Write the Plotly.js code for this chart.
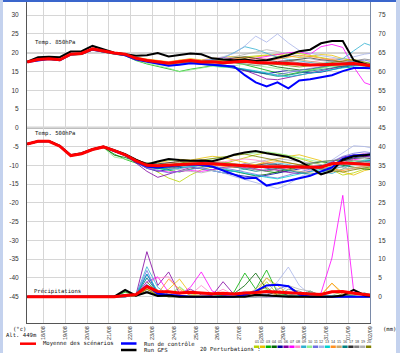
<!DOCTYPE html>
<html><head><meta charset="utf-8">
<script src="https://cdn.plot.ly/plotly-3.0.1.min.js"></script>
<style>
html,body{margin:0;padding:0;background:#fff;}
#wrap{position:relative;width:400px;height:353px;overflow:hidden;}
#chart{position:absolute;left:0;top:0;width:400px;height:353px;}
.strip{position:absolute;pointer-events:none;}
</style></head><body>
<div id="wrap"><div id="chart"></div>
<div class="strip" style="left:0;top:0;width:400px;height:2px;background:#3a66cc"></div>
<div class="strip" style="left:0;top:0;width:3px;height:353px;background:#c4d2ee"></div>
<div class="strip" style="right:0;top:0;width:4px;height:353px;background:#c4d2ee"></div>
</div>
<script>
// lead times (hours) of the run started 17/08 06Z
const leadHours = [0,12,24,36,48,60,72,84,96,108,120,132,144,156,168,180,192,204,216,228,240,252,264,276,288,300,312,324,336,348,360,372,384];
const runStartUTC = Date.UTC(2019,7,17,6);
const dayLabels = ['18/08','19/08','20/08','21/08','22/08','23/08','24/08','25/08','26/08','27/08','28/08','29/08','30/08','31/08','01/09','02/09'];
const pertNames = ['01','02','03','04','05','06','07','08','09','10','11','12','13','14','15','16','17','18','19','20'];
const pertColors = ['#b8d400','#e8c000','#00b000','#006400','#0000a0','#8000a0','#ff00ff','#ff88cc','#30b0d0','#90f090','#7070e0','#a8b4e8','#00d0d0','#ff9020','#c8a870','#008080','#303030','#808080','#b0b0b0','#808000'];

// Temp 850 hPa (°C)
const mean850 = [17.5,18.2,18.4,18.1,19.6,19.8,21.0,20.4,19.9,19.6,18.5,17.9,17.6,17.2,17.6,17.9,17.5,17.6,17.3,17.5,17.7,17.4,17.3,17.3,17.1,16.9,16.7,16.8,16.8,17.0,17.1,16.8,16.4];
const gfs850 = [17.6,18.8,18.9,18.8,20.3,20.4,21.8,20.8,20.0,19.6,19.2,19.3,19.9,19.0,19.3,19.8,19.6,18.5,18.2,18.0,18.2,17.8,18.0,18.6,19.3,20.4,20.8,22.5,23.1,23.1,18.0,17.0,15.8];
const ctrl850 = [17.5,18.0,18.3,18.0,19.5,19.7,20.8,20.3,19.8,19.3,18.2,17.6,17.0,16.5,16.8,17.2,17.0,16.8,16.5,16.3,14.0,12.1,11.0,12.1,10.5,12.6,12.9,13.4,14.0,15.1,15.9,15.9,15.8];
const pert850 = [
 [17.4,18.0,18.3,18.0,19.5,19.6,20.8,20.3,19.8,19.3,18.2,17.5,17.0,16.8,17.0,17.6,17.2,17.8,18.0,18.6,18.9,19.2,19.4,19.0,19.6,19.8,19.2,18.6,18.2,18.5,17.8,17.0,16.6],
 [17.6,18.3,18.5,18.2,19.7,19.9,21.1,20.5,20.0,19.7,18.8,18.3,18.0,17.6,18.0,18.4,18.1,18.5,18.8,19.0,18.6,18.9,19.3,19.6,19.1,18.7,19.0,19.5,19.3,18.4,17.9,17.2,16.9],
 [17.5,18.1,18.2,17.9,19.4,19.5,20.7,20.1,19.6,19.2,17.9,17.0,16.4,15.8,15.0,15.6,16.0,16.6,16.9,17.4,16.8,16.1,15.4,14.6,14.2,14.8,15.2,15.9,16.5,16.3,15.8,16.0,15.7],
 [17.5,18.2,18.4,18.1,19.6,19.7,20.9,20.3,19.8,19.5,18.3,17.6,17.3,16.9,17.3,17.7,17.6,17.9,17.5,17.9,18.4,17.6,16.8,16.2,15.8,15.4,15.6,16.2,16.9,17.3,17.5,16.9,16.2],
 [17.5,18.1,18.4,18.2,19.6,19.8,21.0,20.4,19.8,19.5,18.6,18.0,17.4,16.9,17.2,17.4,17.0,16.6,16.2,15.9,15.2,14.7,14.4,14.9,15.3,15.0,14.6,14.8,15.5,16.1,16.6,17.0,16.8],
 [17.6,18.2,18.3,18.0,19.5,19.8,21.0,20.5,20.0,19.7,18.5,17.8,17.4,17.0,17.3,17.5,17.1,17.0,16.6,16.0,15.3,14.2,13.0,12.8,13.4,14.0,14.7,15.3,15.8,16.4,16.9,17.2,17.0],
 [17.4,18.1,18.4,18.1,19.6,19.9,21.1,20.4,19.9,19.6,18.4,17.9,17.8,17.5,17.9,18.2,17.9,18.4,18.7,18.3,18.0,18.5,19.0,19.6,20.0,20.2,19.6,21.6,22.2,21.4,16.2,12.0,11.0],
 [17.5,18.2,18.5,18.2,19.7,19.8,21.0,20.4,19.9,19.6,18.7,18.1,17.8,17.4,17.8,18.1,17.6,17.4,17.0,17.3,17.8,18.2,18.5,18.0,17.6,17.2,17.5,18.0,18.4,18.0,17.4,16.8,16.3],
 [17.5,18.2,18.4,18.1,19.6,19.8,21.0,20.4,19.9,19.6,18.6,18.0,17.5,17.1,17.5,18.0,17.8,18.2,18.6,20.0,21.6,20.9,19.8,18.8,18.2,17.9,17.4,17.0,17.6,18.4,20.5,22.5,21.5],
 [17.4,18.0,18.2,17.9,19.4,19.6,20.8,20.2,19.7,19.3,18.0,17.2,16.6,15.9,14.9,15.3,15.9,16.4,16.0,16.5,17.0,16.6,16.2,15.9,15.3,14.9,15.4,16.0,16.4,16.9,17.3,17.5,17.1],
 [17.6,18.3,18.5,18.2,19.7,19.9,21.1,20.5,20.0,19.7,18.7,18.0,17.6,17.2,17.6,17.9,17.4,17.0,16.4,16.0,15.6,15.0,14.5,14.1,14.7,15.3,15.8,16.2,16.6,17.2,17.8,18.0,17.4],
 [17.5,18.2,18.4,18.1,19.6,19.8,21.0,20.4,19.9,19.6,18.6,18.0,17.6,17.2,17.7,18.1,17.8,18.4,18.9,19.8,21.8,24.4,22.8,25.0,22.6,20.6,19.8,19.2,18.8,18.3,18.9,19.6,20.0],
 [17.5,18.2,18.3,18.0,19.5,19.7,20.9,20.3,19.8,19.4,18.3,17.6,17.2,16.8,17.0,17.3,16.9,16.5,16.3,16.0,15.7,15.2,14.6,13.9,13.6,14.1,14.5,15.0,15.6,16.0,16.4,16.6,16.4],
 [17.5,18.2,18.5,18.2,19.6,19.9,21.1,20.5,20.0,19.7,18.7,18.2,17.9,17.5,18.0,18.3,17.9,17.7,17.9,18.3,18.7,18.4,18.1,18.3,18.8,19.3,19.0,18.5,18.0,17.6,17.2,16.9,16.5],
 [17.5,18.1,18.3,18.0,19.5,19.7,20.9,20.3,19.8,19.5,18.4,17.7,17.3,16.9,17.2,17.5,17.1,17.2,17.6,17.9,17.4,17.0,16.9,17.3,17.7,18.1,17.7,17.3,16.9,16.6,16.8,17.2,16.9],
 [17.5,18.2,18.4,18.1,19.6,19.8,21.0,20.4,19.9,19.6,18.5,17.9,17.5,17.1,17.4,17.6,17.2,16.8,16.4,16.1,15.4,14.8,14.2,13.7,14.0,14.6,15.1,15.5,16.0,16.4,16.8,16.4,16.0],
 [17.5,18.2,18.4,18.1,19.6,19.8,21.0,20.4,19.9,19.6,18.5,18.0,17.6,17.3,17.7,18.0,17.7,17.9,18.2,18.6,18.9,18.5,18.0,17.6,17.9,18.3,18.6,18.1,17.7,17.5,17.2,16.6,16.0],
 [17.6,18.3,18.5,18.2,19.7,19.9,21.1,20.5,20.0,19.6,18.6,18.0,17.7,17.3,17.6,17.9,17.6,17.3,17.1,17.4,17.0,16.6,16.9,17.4,17.8,17.3,16.8,16.5,16.9,17.4,17.9,18.3,17.9],
 [17.4,18.1,18.3,18.0,19.5,19.7,20.9,20.3,19.8,19.5,18.4,17.8,17.4,17.0,17.4,17.8,17.5,17.9,18.3,18.9,19.5,20.2,20.8,20.3,19.6,19.0,18.4,17.9,17.5,17.3,17.0,16.7,16.4],
 [17.5,18.2,18.4,18.1,19.6,19.8,21.0,20.4,19.9,19.6,18.5,17.9,17.5,17.1,17.5,17.8,17.4,17.6,17.2,17.6,17.9,17.5,17.2,16.8,16.5,16.2,16.5,17.0,17.4,17.8,18.2,17.6,16.8]
];

// Temp 500 hPa (°C)
const mean500 = [-4.3,-3.6,-3.6,-4.9,-7.4,-6.9,-5.8,-5.1,-6.1,-7.2,-8.8,-10.0,-10.1,-9.9,-9.7,-9.6,-9.5,-9.6,-9.7,-10.0,-10.1,-10.3,-10.3,-10.3,-10.4,-10.5,-10.5,-10.5,-9.6,-9.4,-9.5,-9.7,-9.9];
const gfs500 = [-4.3,-3.6,-3.5,-4.8,-7.3,-6.8,-5.7,-5.0,-6.0,-7.0,-8.5,-9.8,-9.0,-8.3,-8.6,-8.8,-8.7,-8.9,-8.2,-7.2,-6.6,-6.2,-6.8,-7.4,-7.8,-8.9,-10.5,-12.4,-11.5,-8.5,-7.6,-7.3,-7.0];
const ctrl500 = [-4.3,-3.6,-3.6,-4.9,-7.4,-6.9,-5.8,-5.1,-6.2,-7.3,-9.0,-10.3,-10.6,-10.2,-10.0,-9.8,-9.9,-10.3,-11.4,-12.6,-13.5,-13.3,-15.4,-14.8,-14.1,-13.3,-12.8,-11.6,-10.6,-8.2,-7.4,-7.2,-7.0];
const pert500 = [
 [-4.3,-3.5,-3.5,-4.8,-7.3,-6.8,-5.7,-5.0,-6.0,-7.0,-8.6,-10.2,-11.8,-13.4,-14.4,-12.6,-11.2,-10.4,-9.6,-8.8,-7.9,-7.2,-6.6,-6.9,-7.4,-8.2,-9.0,-9.8,-11.2,-12.6,-12.0,-11.0,-10.6],
 [-4.2,-3.6,-3.5,-4.9,-7.4,-6.9,-5.8,-5.2,-6.2,-7.2,-8.4,-9.6,-9.3,-8.8,-8.4,-8.6,-8.0,-7.6,-7.9,-8.6,-9.4,-9.9,-9.0,-8.2,-7.6,-7.2,-7.9,-8.8,-10.6,-11.8,-12.6,-11.4,-10.8],
 [-4.3,-3.6,-3.7,-5.0,-7.5,-7.0,-5.9,-5.3,-7.0,-8.4,-9.4,-10.4,-10.8,-11.4,-11.8,-11.0,-10.4,-9.8,-9.2,-9.6,-10.2,-11.0,-11.6,-12.0,-11.2,-10.4,-9.6,-9.0,-8.8,-8.6,-9.2,-9.8,-9.6],
 [-4.3,-3.6,-3.6,-4.9,-7.4,-6.9,-5.8,-5.1,-7.3,-7.9,-9.0,-9.8,-10.6,-10.9,-10.2,-9.6,-9.9,-10.6,-11.2,-11.6,-12.2,-12.8,-12.4,-11.8,-11.0,-10.2,-9.5,-9.1,-9.4,-10.0,-10.5,-11.0,-11.2],
 [-4.4,-3.7,-3.7,-5.0,-7.5,-7.0,-5.9,-5.2,-6.3,-7.4,-9.2,-10.8,-11.6,-11.1,-10.6,-10.4,-10.8,-11.4,-12.0,-12.5,-12.9,-13.2,-12.6,-12.0,-11.4,-10.8,-10.4,-10.1,-9.6,-8.8,-8.0,-7.6,-7.4],
 [-4.3,-3.6,-3.6,-4.9,-7.4,-6.9,-5.8,-5.1,-6.2,-7.3,-9.4,-11.6,-13.2,-12.4,-11.4,-10.6,-10.8,-11.2,-10.6,-10.0,-9.6,-10.2,-10.8,-11.4,-11.9,-12.2,-11.6,-10.6,-9.2,-7.8,-7.2,-7.6,-8.0],
 [-4.2,-3.5,-3.5,-4.8,-7.3,-6.8,-5.7,-5.1,-6.1,-7.2,-9.0,-10.6,-11.4,-11.8,-11.6,-11.4,-11.6,-11.2,-10.8,-10.4,-10.6,-11.0,-11.4,-11.0,-10.6,-10.2,-10.4,-10.8,-11.2,-9.4,-8.4,-8.8,-9.2],
 [-4.3,-3.6,-3.6,-4.9,-7.4,-6.9,-5.8,-5.1,-6.1,-7.1,-8.6,-9.6,-10.2,-10.6,-10.9,-10.5,-10.1,-9.6,-9.1,-8.6,-8.3,-8.6,-9.2,-9.8,-10.4,-10.9,-11.4,-11.8,-10.4,-8.6,-7.4,-6.8,-7.2],
 [-4.3,-3.6,-3.6,-4.9,-7.4,-6.9,-5.8,-5.1,-6.0,-7.0,-8.8,-10.4,-11.0,-10.4,-9.8,-10.2,-10.8,-11.4,-12.0,-11.6,-11.0,-10.6,-10.0,-9.4,-9.8,-10.4,-11.0,-11.6,-12.2,-11.0,-9.4,-8.6,-8.4],
 [-4.4,-3.7,-3.8,-5.1,-7.6,-7.1,-6.0,-5.3,-7.8,-8.4,-9.0,-9.4,-9.0,-8.6,-8.9,-9.3,-8.8,-8.2,-7.8,-7.3,-7.0,-6.6,-6.4,-6.8,-7.4,-8.0,-8.8,-9.4,-9.8,-9.4,-8.8,-8.6,-9.0],
 [-4.3,-3.6,-3.6,-4.9,-7.4,-6.9,-5.8,-5.1,-6.2,-7.4,-9.2,-10.8,-11.4,-12.0,-11.6,-11.0,-10.6,-10.2,-10.6,-11.2,-11.8,-12.4,-13.0,-13.4,-12.6,-11.8,-11.0,-10.2,-9.0,-7.6,-6.8,-6.4,-6.8],
 [-4.2,-3.5,-3.5,-4.8,-7.3,-6.8,-5.7,-5.0,-6.0,-7.1,-8.8,-10.2,-10.6,-10.2,-9.8,-10.2,-10.8,-11.4,-12.0,-13.0,-13.8,-14.6,-15.4,-16.2,-15.0,-13.2,-11.8,-10.4,-8.6,-6.6,-4.8,-5.0,-5.6],
 [-4.3,-3.6,-3.6,-4.9,-7.4,-6.9,-5.8,-5.1,-6.1,-7.2,-8.9,-10.2,-10.8,-11.2,-10.8,-10.4,-10.0,-10.4,-11.0,-11.6,-12.0,-12.6,-13.2,-13.6,-13.0,-12.4,-11.6,-11.0,-10.4,-9.8,-9.2,-8.8,-8.6],
 [-4.2,-3.5,-3.5,-4.8,-7.3,-6.8,-5.7,-5.0,-6.0,-7.0,-8.5,-9.5,-9.8,-9.4,-9.0,-9.2,-9.6,-9.9,-10.2,-10.6,-10.2,-9.8,-9.4,-9.0,-9.4,-9.8,-10.2,-10.6,-11.0,-11.4,-10.8,-10.2,-9.8],
 [-4.3,-3.6,-3.6,-4.9,-7.4,-6.9,-5.8,-5.1,-6.1,-7.1,-8.7,-9.8,-10.2,-10.0,-9.6,-9.3,-9.0,-8.8,-9.2,-9.6,-9.9,-10.2,-10.4,-10.8,-11.2,-11.6,-12.0,-12.4,-11.8,-11.0,-10.6,-10.2,-10.4],
 [-4.3,-3.6,-3.6,-4.9,-7.4,-6.9,-5.8,-5.1,-6.2,-7.2,-9.0,-10.4,-10.9,-10.6,-10.3,-10.0,-9.6,-9.4,-9.8,-10.4,-11.0,-11.6,-11.2,-10.8,-11.4,-12.0,-12.4,-11.8,-11.0,-10.2,-9.6,-9.0,-8.6],
 [-4.3,-3.6,-3.6,-4.9,-7.4,-6.9,-5.8,-5.1,-6.1,-7.1,-8.6,-9.4,-9.6,-9.2,-9.0,-8.8,-8.9,-9.2,-9.6,-10.0,-10.4,-10.0,-9.6,-9.8,-10.2,-10.6,-10.8,-10.2,-9.4,-8.8,-8.2,-8.0,-8.4],
 [-4.3,-3.6,-3.6,-4.9,-7.4,-6.9,-5.8,-5.1,-6.0,-7.0,-8.8,-9.9,-10.3,-10.1,-9.8,-9.6,-9.3,-9.6,-10.0,-10.4,-10.8,-11.2,-11.6,-11.0,-10.4,-9.8,-9.4,-9.0,-8.6,-8.4,-8.8,-9.2,-9.4],
 [-4.4,-3.7,-3.7,-5.0,-7.5,-7.0,-5.9,-5.2,-6.3,-7.3,-8.9,-10.0,-10.4,-10.8,-11.2,-11.6,-12.0,-11.4,-10.8,-10.2,-9.6,-9.0,-8.6,-8.2,-8.6,-9.0,-9.4,-9.8,-10.2,-10.6,-11.0,-10.6,-10.2],
 [-4.3,-3.6,-3.6,-4.9,-7.4,-6.9,-5.8,-5.1,-6.1,-7.1,-8.8,-10.0,-10.2,-9.8,-9.4,-9.0,-8.6,-8.2,-7.8,-7.4,-7.0,-7.6,-8.2,-8.8,-9.4,-10.0,-10.6,-11.0,-11.4,-11.8,-11.2,-10.6,-10.2]
];

// Précipitations (mm, right axis)
const meanPrec = [0,0,0,0,0,0,0,0,0,0.3,0.6,2.7,1.4,1.3,1.0,1.2,1.0,0.8,0.9,0.7,1.0,1.1,1.4,1.2,1.1,0.8,0.7,0.6,1.3,1.4,0.9,0.6,0.3];
const gfsPrec = [0,0,0,0,0,0,0,0,0,1.8,0.3,1.2,0.2,0.3,0,0,0,0,0,0,0,0.5,0.3,0,0,0,0,0,0,0.3,1.8,0.4,0];
const ctrlPrec = [0,0,0,0,0,0,0,0,0,0.4,0.5,3.0,0.8,0.5,0.2,0,0,0,0,0,0.5,1.5,3.0,3.2,2.8,0.6,0,0,0,0,0.2,0,0];
const pertPrec = [
 [0,0,0,0,0,0,0,0,0,0,0.2,2.0,0.3,0.2,2.5,0.3,0,0,0,0,0.2,0.5,4.0,0.6,0,0,0,0.2,1.5,0.3,0,0,0],
 [0,0,0,0,0,0,0,0,0,0,0.3,3.0,0.5,2.0,4.7,0.8,0.2,0,0,0,0.3,1.0,5.0,3.0,0.6,0.2,0,0.4,3.6,1.0,0.2,0,0],
 [0,0,0,0,0,0,0,0,0,1.2,0.4,4.0,0.8,0.3,0.2,0,0,0,0.3,1.2,6.3,2.0,7.1,1.0,0.3,0,0,0,0,0,0,0,0],
 [0,0,0,0,0,0,0,0,0,1.5,0.3,3.0,0.6,0.2,0,0,0,0,0.2,0.8,3.0,6.3,2.0,0.5,0.2,0.3,1.5,0.3,0,0,0,0,0],
 [0,0,0,0,0,0,0,0,0,0,0.2,6.0,1.0,0.3,0,0,0,0,0,0,0.3,1.2,3.0,3.2,2.8,1.0,0.2,0,0,0,0,0,0],
 [0,0,0,0,0,0,0,0,0,0,0.5,12.0,3.0,6.6,0.8,2.0,0.5,0.3,4.0,0.6,0.2,0,0,0,0,0,0,0,0,0,0,0,0],
 [0,0,0,0,0,0,0,0,0,0,0.3,4.0,5.3,1.2,0.6,2.5,6.6,1.5,0.4,0.2,0,0,0,0,0,0,0.2,1.0,10.3,27.0,1.5,0.3,0],
 [0,0,0,0,0,0,0,0,0,0,0.3,3.5,5.0,5.3,1.5,0.5,3.0,0.6,2.0,0.4,0,0,0,0,0,0,0,0,0,0,0,0,0],
 [0,0,0,0,0,0,0,0,0,0,0.5,8.0,2.5,0.5,0.2,0,0,0,0,0,0,0,0,0.2,0.4,1.0,0.3,0,0,0,0,0,0],
 [0,0,0,0,0,0,0,0,0,0.4,0.2,2.5,1.0,0.3,2.7,0.5,0,0,0,0,0,0.3,2.0,0.4,0,0,0,0,0.3,1.5,0.3,0,0],
 [0,0,0,0,0,0,0,0,0,0,0.4,7.0,0.8,1.5,0.3,0,0,0,0,0,0,0.2,0.6,2.0,3.0,0.5,0,0,0,0,0,0,0],
 [0,0,0,0,0,0,0,0,0,0,0.3,5.0,0.6,0.2,0,0,0,0,0,0.3,1.5,0.6,1.0,4.0,7.9,3.0,0.6,0.2,0,0,0,0,0],
 [0,0,0,0,0,0,0,0,0,0,0.4,6.0,1.5,0.3,0,0,0,0,0,0,0,0,0,0,0,0.3,1.2,0.2,0,0,0,0,0],
 [0,0,0,0,0,0,0,0,0,0,0.2,2.0,0.8,4.7,2.0,0.3,0,0,0,0,0,0.4,1.5,0.3,0,0,0,0.5,3.6,0.6,0,0,0],
 [0,0,0,0,0,0,0,0,0,0,0.2,2.5,0.4,0.2,0,0,0,0,0,0,0.4,2.0,5.0,2.0,0.3,0,0,0,0,0,0,0,0],
 [0,0,0,0,0,0,0,0,0,0,0.3,5.0,1.0,0.2,0,0,0,0,0,0,0,0,0,0,0,0,0,0,0,0.2,0.4,1.0,0.2],
 [0,0,0,0,0,0,0,0,0,0.6,0.2,1.5,0.3,0,0,0,0,0,0,0,0,0,0.4,1.5,0.3,0,0,0,0,0.3,1.0,0.3,0],
 [0,0,0,0,0,0,0,0,0,0,0.3,3.0,0.5,0,0,0,0,0,0,0,0,0,0,0.3,2.0,1.5,0.3,0,0,0,0,0,0],
 [0,0,0,0,0,0,0,0,0,0,0.2,1.0,0.3,0,0,0,0,0,0,0,0,0,0,0.5,3.0,2.0,1.5,0.3,0,0,0,0,0],
 [0,0,0,0,0,0,0,0,0,0.3,0.2,2.0,0.4,0,0,0,0,0,0,0,0.3,1.5,2.5,0.4,0,0,0,0,0,0,0,0,0]
];

function fmt(ms){const d=new Date(ms);const p=n=>String(n).padStart(2,'0');
  return d.getUTCFullYear()+'-'+p(d.getUTCMonth()+1)+'-'+p(d.getUTCDate())+' '+p(d.getUTCHours())+':'+p(d.getUTCMinutes());}
const times = leadHours.map(h=>fmt(runStartUTC+h*3600e3));
const tickDates = dayLabels.map((_,i)=>fmt(Date.UTC(2019,7,18+i,0)));

const traces=[];
function line(y,color,width,axis){traces.push({type:'scatter',mode:'lines',x:times,y:y,yaxis:axis,
  line:{color:color,width:width},hoverinfo:'skip',showlegend:false,cliponaxis:true});}
for(let i=0;i<20;i++){
  line(pert850[i],pertColors[i],0.8,'y');
  line(pert500[i],pertColors[i],0.8,'y');
  line(pertPrec[i],pertColors[i],0.8,'y2');
}
line(ctrl850,'#0000ff',2,'y'); line(ctrl500,'#0000ff',2,'y'); line(ctrlPrec,'#0000ff',2,'y2');
line(gfs850,'#000000',2,'y'); line(gfs500,'#000000',2,'y'); line(gfsPrec,'#000000',2,'y2');
line(mean850,'#ff0000',3,'y'); line(mean500,'#ff0000',3,'y'); line(meanPrec,'#ff0000',3,'y2');

const leftTicks=[30,25,20,15,10,5,0,-5,-10,-15,-20,-25,-30,-35,-40,-45];
const rightTicks=[75,70,65,60,55,50,45,40,35,30,25,20,15,10,5,0];
const tickFont={family:'Liberation Sans, Arial, sans-serif',size:6.5,color:'#333'};
const txtFont={family:'DejaVu Sans Mono, monospace',size:5.6,color:'#111'};

// helper for paper coordinates from pixel positions
const L=27,R=30,T=2,B=30,W=400,H=353;
const px=x=>(x-L)/(W-L-R), py=y=>(H-B-y)/(H-T-B);

const annotations=[
 {text:'Temp. 850hPa',xref:'paper',yref:'paper',x:px(33),y:py(42.3),xanchor:'left',yanchor:'middle',showarrow:false,font:txtFont},
 {text:'Temp. 500hPa',xref:'paper',yref:'paper',x:px(33),y:py(133.3),xanchor:'left',yanchor:'middle',showarrow:false,font:txtFont},
 {text:'Précipitations',xref:'paper',yref:'paper',x:px(32),y:py(291.5),xanchor:'left',yanchor:'middle',showarrow:false,font:txtFont},
 {text:'(°c)',xref:'paper',yref:'paper',x:px(11),y:py(328.5),xanchor:'left',yanchor:'middle',showarrow:false,font:txtFont},
 {text:'Alt. 449m',xref:'paper',yref:'paper',x:px(4),y:py(334.5),xanchor:'left',yanchor:'middle',showarrow:false,font:txtFont},
 {text:'(mm)',xref:'paper',yref:'paper',x:px(381),y:py(329),xanchor:'left',yanchor:'middle',showarrow:false,font:txtFont},
 {text:'Moyenne des scénarios',xref:'paper',yref:'paper',x:px(41),y:py(343.7),xanchor:'left',yanchor:'middle',showarrow:false,font:txtFont},
 {text:'Run de contrôle',xref:'paper',yref:'paper',x:px(142),y:py(343.7),xanchor:'left',yanchor:'middle',showarrow:false,font:txtFont},
 {text:'Run GFS',xref:'paper',yref:'paper',x:px(142),y:py(350),xanchor:'left',yanchor:'middle',showarrow:false,font:txtFont},
 {text:'20 Perturbations :',xref:'paper',yref:'paper',x:px(198),y:py(349.3),xanchor:'left',yanchor:'middle',showarrow:false,font:txtFont}
];
const shapes=[
 {type:'line',xref:'paper',yref:'y',x0:0,x1:1,y0:20,y1:20,line:{color:'#a8a8a8',width:1.5},layer:'below'},
 {type:'line',xref:'paper',yref:'y',x0:0,x1:1,y0:0,y1:0,line:{color:'#a8a8a8',width:2},layer:'below'},
 {type:'line',xref:'paper',yref:'paper',x0:px(20),x1:px(36),y0:py(343.7),y1:py(343.7),line:{color:'#ff0000',width:2.5}},
 {type:'line',xref:'paper',yref:'paper',x0:px(121),x1:px(136.5),y0:py(343.5),y1:py(343.5),line:{color:'#0000ff',width:2.5}},
 {type:'line',xref:'paper',yref:'paper',x0:px(121),x1:px(136.5),y0:py(350),y1:py(350),line:{color:'#000000',width:2.5}}
];
for(let i=0;i<20;i++){
  const cx=256.5+5.9*i;
  annotations.push({text:pertNames[i],xref:'paper',yref:'paper',x:px(cx),y:py(341.5),xanchor:'center',yanchor:'middle',showarrow:false,font:{family:'Liberation Sans, Arial, sans-serif',size:3.8,color:'#333'}});
  shapes.push({type:'rect',xref:'paper',yref:'paper',x0:px(cx-2.6),x1:px(cx+2.6),y0:py(348),y1:py(345.5),line:{width:0},fillcolor:pertColors[i]});
}

const layout={
 width:W,height:H,margin:{l:L,r:R,t:T,b:B,pad:0},
 paper_bgcolor:'#ffffff',plot_bgcolor:'#ffffff',showlegend:false,
 xaxis:{type:'date',range:['2019-08-17 05:49','2019-09-02 00:00'],tickvals:tickDates,ticktext:dayLabels,
   tickangle:-90,tickfont:{family:'Liberation Sans, Arial, sans-serif',size:5.5,color:'#333'},
   showgrid:true,gridcolor:'#d6d6d6',gridwidth:1,showline:true,linecolor:'#555',linewidth:1,ticks:'',zeroline:false},
 yaxis:{range:[-52.0,33.5],tickvals:leftTicks,ticktext:leftTicks.map(String),tickfont:tickFont,
   showgrid:true,gridcolor:'#d6d6d6',gridwidth:1,showline:true,linecolor:'#555',linewidth:1,ticks:'',zeroline:false,ticklabelstandoff:6},
 yaxis2:{overlaying:'y',side:'right',range:[-7.0,78.5],tickvals:rightTicks,ticktext:rightTicks.map(String),tickfont:tickFont,
   showgrid:false,showline:true,linecolor:'#7a8aa8',linewidth:1,ticks:'',zeroline:false,ticklabelstandoff:6},
 annotations:annotations,shapes:shapes
};
Plotly.newPlot('chart',traces,layout,{staticPlot:true,displayModeBar:false});
</script></body></html>
